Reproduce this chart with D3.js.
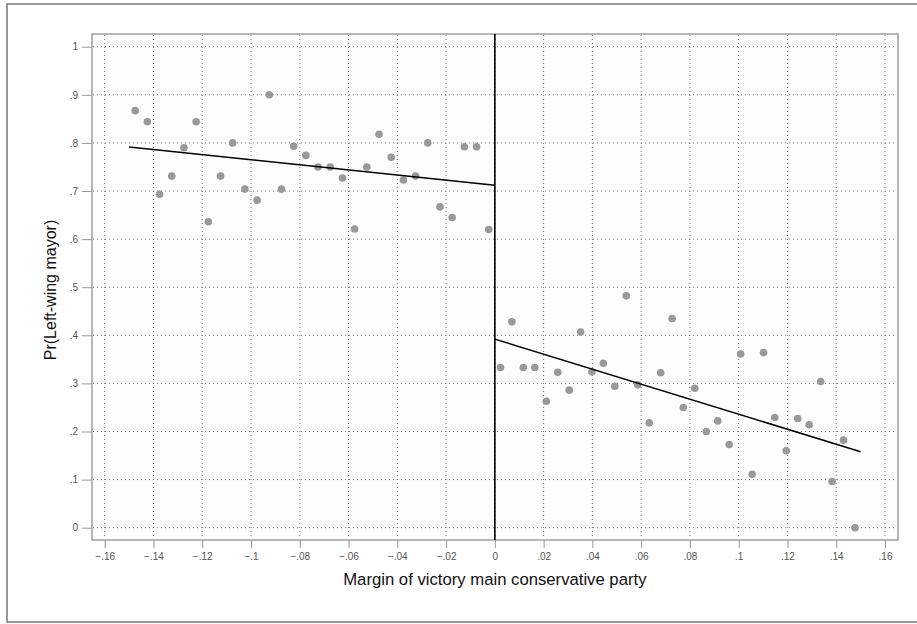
<!DOCTYPE html>
<html>
<head>
<meta charset="utf-8">
<script src="https://cdn.jsdelivr.net/npm/d3@7"></script>
<style>
    body { margin: 0; background: #fff; }
    svg { display: block; font-family: "Liberation Sans", Arial, sans-serif; }
    .tick text { fill: #555; font-size: 10px; }
    .tick line { stroke: #999; }
    .gridLines { stroke: #777; stroke-width: 1; stroke-dasharray: 1 3; }
    .dots { fill: #999; }
    .fitLine { stroke: #000; stroke-width: 1.5; fill: none; }
    .axisTitle { fill: #111; font-size: 16px; }
</style>
</head>
<body>
<script>
// binned scatter, left of the cutoff
let leftX = [-0.1475, -0.1425, -0.1375, -0.1325, -0.1275, -0.1225, -0.1175, -0.1125, -0.1075, -0.1025,
             -0.0975, -0.0925, -0.0875, -0.0825, -0.0775, -0.0725, -0.0675, -0.0625, -0.0575, -0.0525,
             -0.0475, -0.0425, -0.0375, -0.0325, -0.0275, -0.0225, -0.0175, -0.0125, -0.0075, -0.0025];
let leftY = [0.867, 0.844, 0.693, 0.731, 0.790, 0.844, 0.636, 0.731, 0.800, 0.704,
             0.681, 0.900, 0.704, 0.793, 0.774, 0.750, 0.750, 0.727, 0.621, 0.750,
             0.818, 0.770, 0.723, 0.731, 0.800, 0.667, 0.645, 0.792, 0.792, 0.620];

// binned scatter, right of the cutoff
let rightX = [0.0023, 0.0070, 0.0117, 0.0164, 0.0211, 0.0258, 0.0305, 0.0352, 0.0398, 0.0445,
              0.0492, 0.0539, 0.0586, 0.0633, 0.0680, 0.0727, 0.0773, 0.0820, 0.0867, 0.0914,
              0.0961, 0.1008, 0.1055, 0.1102, 0.1148, 0.1195, 0.1242, 0.1289, 0.1336, 0.1383,
              0.1430, 0.1477];
let rightY = [0.333, 0.428, 0.333, 0.333, 0.263, 0.323, 0.286, 0.407, 0.324, 0.342,
              0.294, 0.482, 0.297, 0.218, 0.322, 0.435, 0.250, 0.290, 0.200, 0.222,
              0.173, 0.361, 0.111, 0.364, 0.229, 0.160, 0.227, 0.214, 0.304, 0.096,
              0.182, 0.000];

// linear fits on each side
let leftFit = [[-0.15, 0.7915], [0, 0.712]];
let rightFit = [[0, 0.392], [0.15, 0.158]];

let xTicks = [-0.16, -0.14, -0.12, -0.1, -0.08, -0.06, -0.04, -0.02, 0, 0.02, 0.04, 0.06, 0.08, 0.1, 0.12, 0.14, 0.16];
let yTicks = [0, 0.1, 0.2, 0.3, 0.4, 0.5, 0.6, 0.7, 0.8, 0.9, 1];

window.onload = function () {
    let width = 917, height = 624;

    const svg = d3.select("body")
        .append("svg")
        .attr("width", width)
        .attr("height", height);

    //outer frame (right side runs off the image)
    svg.append("rect")
        .attr("x", 7).attr("y", 4)
        .attr("width", 930).attr("height", 618)
        .attr("fill", "#fff")
        .attr("stroke", "#777")
        .attr("stroke-width", 1.5);

    //plot region
    let plotL = 92, plotR = 898, plotT = 34, plotB = 540;

    svg.append("rect")
        .attr("x", plotL).attr("y", plotT)
        .attr("width", plotR - plotL).attr("height", plotB - plotT)
        .attr("fill", "#fdfdfd")
        .attr("stroke", "#888")
        .attr("stroke-width", 1.2);

    const x = d3.scaleLinear().domain([-0.16, 0.16]).range([104.7, 885]);
    const y = d3.scaleLinear().domain([0, 1]).range([527.7, 46.7]);

    let fmt = function (d) {
        if (d === 0) return "0";
        return d3.format("")(+d.toFixed(2)).replace("0.", ".");
    };

    //dotted grid
    svg.selectAll(".gridV")
        .data(xTicks)
        .enter()
        .append("line")
        .attr("class", "gridLines")
        .attr("x1", d => x(d)).attr("x2", d => x(d))
        .attr("y1", plotT + 1).attr("y2", plotB - 1);

    svg.selectAll(".gridH")
        .data(yTicks)
        .enter()
        .append("line")
        .attr("class", "gridLines")
        .attr("x1", plotL + 1).attr("x2", plotR - 1)
        .attr("y1", d => y(d)).attr("y2", d => y(d));

    //axes
    const xAxis = d3.axisBottom(x)
        .tickValues(xTicks)
        .tickFormat(fmt)
        .tickSize(8)
        .tickPadding(5);

    svg.append("g")
        .attr("transform", "translate(0," + plotB + ")")
        .call(xAxis)
        .call(g => g.select(".domain").remove());

    const yAxis = d3.axisLeft(y)
        .tickValues(yTicks)
        .tickFormat(fmt)
        .tickSize(10)
        .tickPadding(4);

    svg.append("g")
        .attr("transform", "translate(" + plotL + ",0)")
        .call(yAxis)
        .call(g => g.select(".domain").remove());

    //cutoff line
    svg.append("line")
        .attr("x1", x(0)).attr("x2", x(0))
        .attr("y1", plotT).attr("y2", plotB)
        .attr("stroke", "#000")
        .attr("stroke-width", 1.6);

    //dots
    let points = leftX.map((d, i) => [d, leftY[i]])
        .concat(rightX.map((d, i) => [d, rightY[i]]));

    svg.selectAll(".dots")
        .data(points)
        .enter()
        .append("circle")
        .attr("class", "dots")
        .attr("cx", d => x(d[0]))
        .attr("cy", d => y(d[1]))
        .attr("r", 3.8);

    //fit lines
    let line = d3.line().x(d => x(d[0])).y(d => y(d[1]));

    svg.append("path").datum(leftFit).attr("class", "fitLine").attr("d", line);
    svg.append("path").datum(rightFit).attr("class", "fitLine").attr("d", line);

    //titles
    svg.append("text")
        .attr("class", "axisTitle")
        .attr("x", x(0))
        .attr("y", 585)
        .attr("text-anchor", "middle")
        .style("font-size", "16.7px")
        .text("Margin of victory main conservative party");

    svg.append("text")
        .attr("class", "axisTitle")
        .attr("transform", "translate(56,290) rotate(-90)")
        .attr("text-anchor", "middle")
        .text("Pr(Left-wing mayor)");
};
</script>
</body>
</html>
